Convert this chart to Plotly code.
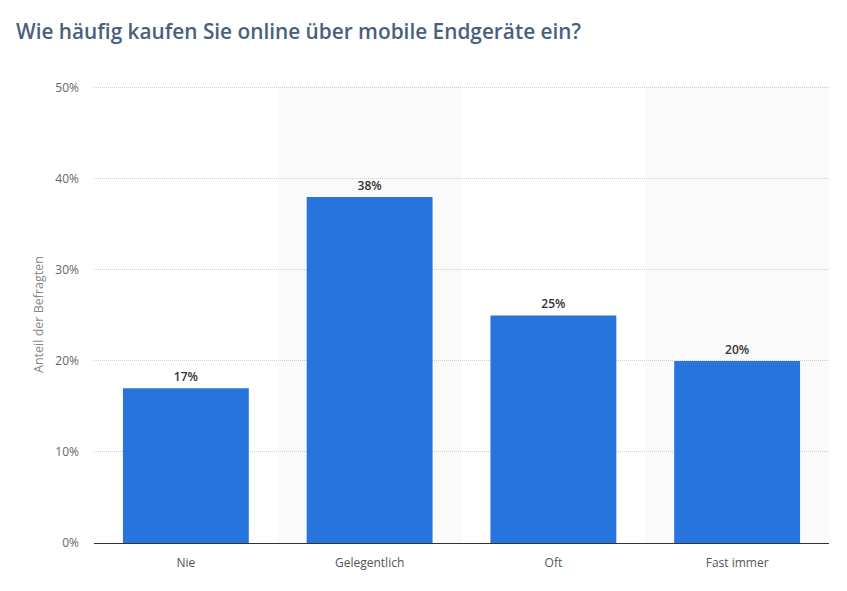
import plotly.graph_objects as go

categories = ["Nie", "Gelegentlich", "Oft", "Fast immer"]
values = [17, 38, 25, 20]
labels = ["17%", "38%", "25%", "20%"]
tick_vals = [0, 10, 20, 30, 40, 50]
tick_text = ["0%", "10%", "20%", "30%", "40%", "50%"]
shaded_idx = [1, 3]

fig = go.Figure()
fig.add_trace(go.Bar(
    x=categories, y=values, text=labels, textposition="outside",
    textfont=dict(family="Open Sans", size=12, color="#333333", weight=600),
    marker=dict(color="#2775dc", line=dict(width=0)),
    width=0.685, cliponaxis=False,
))

shapes = []
for i in shaded_idx:
    shapes.append(dict(type="rect", xref="x", yref="paper", x0=i - 0.5, x1=i + 0.5,
                       y0=0, y1=1, fillcolor="#fafafa", line=dict(width=0), layer="below"))

fig.update_layout(
    width=847, height=591,
    margin=dict(l=94, r=18, t=86, b=48),
    paper_bgcolor="white", plot_bgcolor="white",
    font=dict(family="Open Sans", color="#666666"),
    title=dict(text="Wie häufig kaufen Sie online über mobile Endgeräte ein?",
               x=16 / 847, xref="container", xanchor="left", y=1 - 32 / 591, yanchor="middle",
               font=dict(family="Open Sans", size=20.8, color="#4a5f7e", weight=600)),
    showlegend=False,
    shapes=shapes,
)
fig.update_xaxes(
    showline=True, linecolor="#333333", linewidth=1.2,
    tickfont=dict(size=12, color="#555555"), ticks="", showgrid=False,
    ticklabelstandoff=8,
)
fig.update_yaxes(
    range=[0, 50.2], tickvals=tick_vals, ticktext=tick_text,
    showgrid=True, gridcolor="#cfcfcf", griddash="1px,1px", gridwidth=1,
    zeroline=False, tickfont=dict(size=12, color="#666666"),
    ticklabelstandoff=14,
    title=dict(text="Anteil der Befragten", font=dict(size=12.5, color="#888888"), standoff=8),
)
fig.write_html("out.html")
